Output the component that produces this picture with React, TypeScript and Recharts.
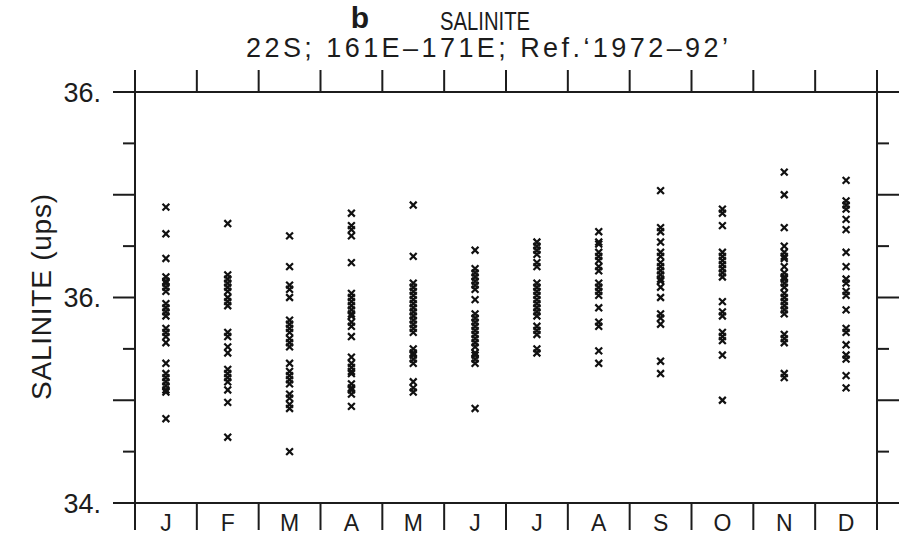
import { ScatterChart, Scatter, XAxis, YAxis } from "recharts";

// month initials along the bottom
const MONTHS = ["J", "F", "M", "A", "M", "J", "J", "A", "S", "O", "N", "D"];

// salinity readings (ups), one list per month
const JAN = [35.44, 35.31, 35.19, 35.1, 35.08, 35.07, 35.05, 35.03, 34.97, 34.95, 34.93, 34.91, 34.85, 34.83, 34.81, 34.78, 34.68, 34.63, 34.61, 34.59, 34.57, 34.55, 34.54, 34.41];
const FEB = [35.36, 35.11, 35.09, 35.07, 35.05, 35.03, 35.0, 34.98, 34.96, 34.83, 34.81, 34.76, 34.73, 34.65, 34.63, 34.61, 34.59, 34.55, 34.49, 34.32];
const MAR = [35.3, 35.15, 35.06, 35.04, 35.0, 34.89, 34.87, 34.85, 34.83, 34.8, 34.78, 34.76, 34.68, 34.64, 34.62, 34.6, 34.58, 34.53, 34.51, 34.48, 34.46, 34.25];
const APR = [35.41, 35.35, 35.33, 35.3, 35.17, 35.02, 35.0, 34.98, 34.96, 34.94, 34.92, 34.91, 34.88, 34.86, 34.81, 34.71, 34.68, 34.66, 34.64, 34.63, 34.58, 34.56, 34.55, 34.53, 34.47];
const MAY = [35.45, 35.2, 35.07, 35.05, 35.03, 35.01, 34.99, 34.97, 34.95, 34.93, 34.91, 34.89, 34.87, 34.85, 34.83, 34.75, 34.73, 34.72, 34.7, 34.68, 34.59, 34.56, 34.54];
const JUN = [35.23, 35.14, 35.12, 35.1, 35.08, 35.06, 35.04, 34.99, 34.92, 34.9, 34.88, 34.86, 34.84, 34.82, 34.8, 34.78, 34.76, 34.73, 34.72, 34.7, 34.68, 34.46];
const JUL = [35.27, 35.25, 35.23, 35.21, 35.17, 35.15, 35.07, 35.05, 35.03, 35.01, 34.99, 34.97, 34.95, 34.93, 34.91, 34.86, 34.84, 34.82, 34.75, 34.73];
const AUG = [35.32, 35.27, 35.26, 35.22, 35.2, 35.18, 35.15, 35.13, 35.07, 35.05, 35.03, 35.01, 34.95, 34.88, 34.86, 34.74, 34.68];
const SEP = [35.52, 35.34, 35.32, 35.27, 35.22, 35.2, 35.17, 35.15, 35.13, 35.11, 35.09, 35.08, 35.05, 35.0, 34.92, 34.9, 34.87, 34.69, 34.63];
const OCT = [35.43, 35.41, 35.35, 35.22, 35.2, 35.18, 35.16, 35.14, 35.12, 35.1, 34.98, 34.93, 34.91, 34.83, 34.81, 34.79, 34.72, 34.5];
const NOV = [35.61, 35.5, 35.34, 35.25, 35.22, 35.2, 35.19, 35.15, 35.12, 35.1, 35.09, 35.07, 35.05, 35.02, 35.0, 34.98, 34.96, 34.94, 34.92, 34.82, 34.8, 34.78, 34.63, 34.61];
const DEC = [35.57, 35.47, 35.45, 35.43, 35.38, 35.33, 35.22, 35.15, 35.09, 35.07, 35.03, 35.01, 34.94, 34.85, 34.83, 34.77, 34.72, 34.7, 34.62, 34.56];

const SALINITY = [JAN, FEB, MAR, APR, MAY, JUN, JUL, AUG, SEP, OCT, NOV, DEC];

// axis ticks
const Y_TICKS = [34, 34.25, 34.5, 34.75, 35, 35.25, 35.5, 35.75, 36];
const Y_LABELS: Record<number, string> = { 34: "34.", 35: "36.", 36: "36." };
const X_BOUNDS = [0.5, 1.5, 2.5, 3.5, 4.5, 5.5, 6.5, 7.5, 8.5, 9.5, 10.5, 11.5, 12.5];
const X_BOTTOM = [0.5, 1, 1.5, 2, 2.5, 3, 3.5, 4, 4.5, 5, 5.5, 6, 6.5, 7, 7.5, 8, 8.5, 9, 9.5, 10, 10.5, 11, 11.5, 12, 12.5];

const INK = "#1c1c1c";
const FONT = "'Liberation Sans', Arial, sans-serif";

const points = SALINITY.flatMap((vals, i) => vals.map((v) => ({ x: i + 1, y: v })));

function tickLen(v: number) {
  return Math.abs(v * 2 - Math.round(v * 2)) < 1e-6 ? 22 : 12;
}

function LeftTick(props: any) {
  const { x, y, payload } = props;
  const v = payload.value as number;
  const len = tickLen(v);
  const label = Y_LABELS[v];
  return (
    <g>
      <line x1={x - len} x2={x} y1={y} y2={y} stroke={INK} strokeWidth={2} />
      {label && (
        <text x={x - 34} y={y} dy="0.36em" textAnchor="end" fontSize={27} fontFamily={FONT} fill={INK}>
          {label}
        </text>
      )}
    </g>
  );
}

function RightTick(props: any) {
  const { x, y, payload } = props;
  const len = tickLen(payload.value);
  return <line x1={x} x2={x + len} y1={y} y2={y} stroke={INK} strokeWidth={2} />;
}

function TopTick(props: any) {
  const { x, y } = props;
  return <line x1={x} x2={x} y1={y - 22} y2={y} stroke={INK} strokeWidth={2} />;
}

function BottomTick(props: any) {
  const { x, y, payload } = props;
  const v = payload.value as number;
  if (Number.isInteger(v)) {
    return (
      <text x={x} y={y + 28} textAnchor="middle" fontSize={23} fontFamily={FONT} fill={INK}>
        {MONTHS[v - 1]}
      </text>
    );
  }
  return <line x1={x} x2={x} y1={y} y2={y + 27} stroke={INK} strokeWidth={2} />;
}

function Cross(props: any) {
  const { cx, cy } = props;
  if (cx == null || cy == null) return null;
  const s = 3.4;
  return (
    <path
      d={`M${cx - s},${cy - s}L${cx + s},${cy + s}M${cx + s},${cy - s}L${cx - s},${cy + s}`}
      stroke="#111"
      strokeWidth={2.2}
      fill="none"
    />
  );
}

export default function App() {
  return (
    <div style={{ position: "absolute", left: 0, top: 0, width: 907, height: 554, background: "#fff" }}>
      <ScatterChart width={907} height={554} margin={{ top: 0, right: 0, bottom: 0, left: 0 }}>
        <XAxis
          xAxisId="bottom"
          type="number"
          dataKey="x"
          domain={[0.5, 12.5]}
          ticks={X_BOTTOM}
          interval={0}
          height={51}
          tickSize={0}
          tickMargin={0}
          tickLine={false}
          axisLine={{ stroke: INK, strokeWidth: 2 }}
          tick={(p: any) => <BottomTick {...p} />}
        />
        <XAxis
          xAxisId="top"
          orientation="top"
          type="number"
          dataKey="x"
          domain={[0.5, 12.5]}
          ticks={X_BOUNDS}
          interval={0}
          height={92}
          tickSize={0}
          tickMargin={0}
          tickLine={false}
          axisLine={{ stroke: INK, strokeWidth: 2 }}
          tick={(p: any) => <TopTick {...p} />}
        />
        <YAxis
          yAxisId="left"
          type="number"
          dataKey="y"
          domain={[34, 36]}
          ticks={Y_TICKS}
          interval={0}
          width={135}
          tickSize={0}
          tickMargin={0}
          tickLine={false}
          axisLine={{ stroke: INK, strokeWidth: 2 }}
          tick={(p: any) => <LeftTick {...p} />}
        />
        <YAxis
          yAxisId="right"
          orientation="right"
          type="number"
          dataKey="y"
          domain={[34, 36]}
          ticks={Y_TICKS}
          interval={0}
          width={30}
          tickSize={0}
          tickMargin={0}
          tickLine={false}
          axisLine={{ stroke: INK, strokeWidth: 2 }}
          tick={(p: any) => <RightTick {...p} />}
        />
        <Scatter
          data={points}
          xAxisId="bottom"
          yAxisId="left"
          shape={(p: any) => <Cross {...p} />}
          isAnimationActive={false}
        />
        <Scatter
          data={points}
          xAxisId="top"
          yAxisId="right"
          shape={() => <g />}
          isAnimationActive={false}
        />
      </ScatterChart>
      <svg
        width={907}
        height={554}
        style={{ position: "absolute", left: 0, top: 0, pointerEvents: "none" }}
        fontFamily={FONT}
        fill={INK}
      >
        <text x={360} y={28} textAnchor="middle" fontSize={30} fontWeight="bold">
          b
        </text>
        <text x={440} y={30} fontSize={26} textLength={90} lengthAdjust="spacingAndGlyphs">
          SALINITE
        </text>
        <text x={246} y={57} fontSize={27} textLength={482} lengthAdjust="spacing">
          22S; 161E–171E; Ref.‘1972–92’
        </text>
        <text
          transform="translate(51,297) rotate(-90)"
          textAnchor="middle"
          fontSize={28}
          textLength={206}
          lengthAdjust="spacing"
        >
          SALINITE (ups)
        </text>
      </svg>
    </div>
  );
}
